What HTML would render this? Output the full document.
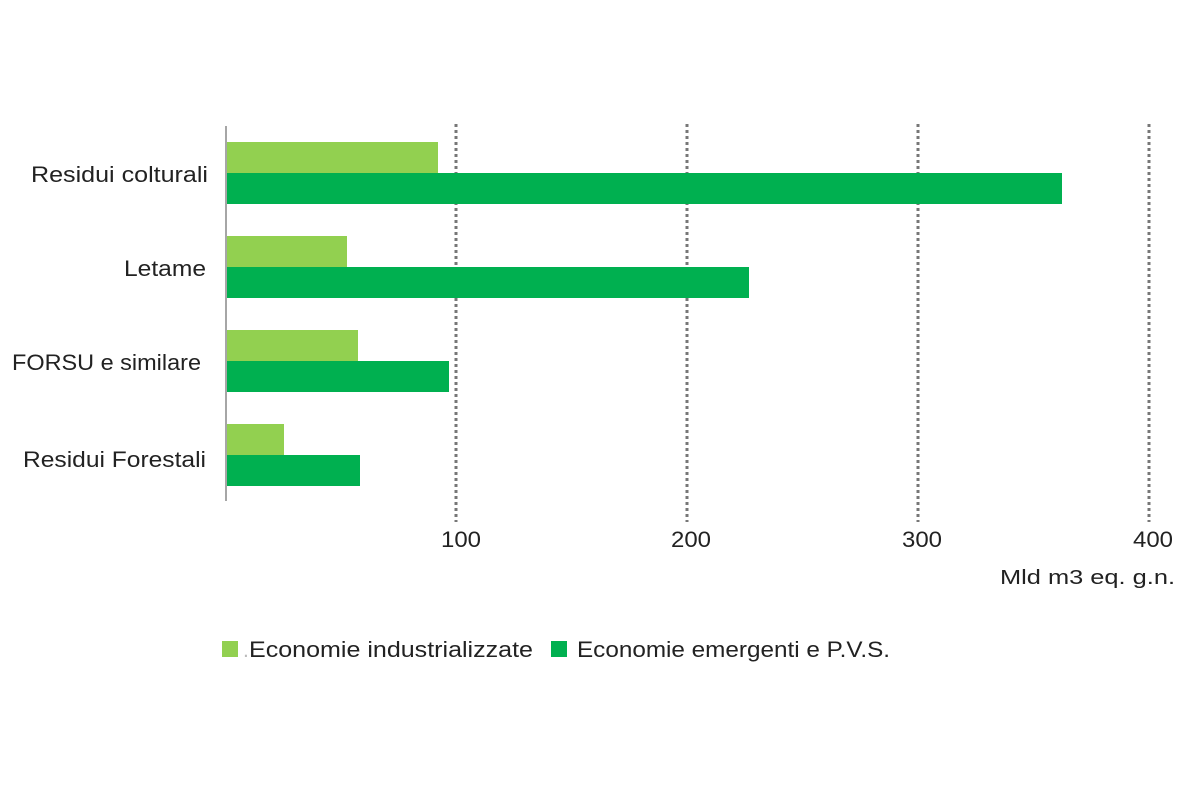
<!DOCTYPE html>
<html><head><meta charset="utf-8"><style>html,body{margin:0;padding:0;background:#fff;}svg{display:block}</style></head>
<body>
<svg width="1200" height="800" xmlns="http://www.w3.org/2000/svg" font-family="Liberation Sans, sans-serif">
<rect width="1200" height="800" fill="#fff"/>
<g stroke="#777" stroke-width="3" stroke-dasharray="3 3">
<line x1="456" y1="124" x2="456" y2="522"/>
<line x1="687" y1="124" x2="687" y2="522"/>
<line x1="918" y1="124" x2="918" y2="522"/>
<line x1="1149" y1="124" x2="1149" y2="522"/>
</g>
<line x1="226" y1="126" x2="226" y2="501" stroke="#888" stroke-width="1.5"/>
<g fill="#92d050">
<rect x="227" y="142" width="211" height="31"/>
<rect x="227" y="236" width="120" height="31"/>
<rect x="227" y="330" width="131" height="31"/>
<rect x="227" y="424" width="57" height="31"/>
</g>
<g fill="#00b050">
<rect x="227" y="173" width="835" height="31"/>
<rect x="227" y="267" width="522" height="31"/>
<rect x="227" y="361" width="222" height="31"/>
<rect x="227" y="455" width="133" height="31"/>
</g>
<g fill="#222" font-size="22">
<text x="31" y="182" textLength="177" lengthAdjust="spacingAndGlyphs">Residui colturali</text>
<text x="124" y="276" textLength="82" lengthAdjust="spacingAndGlyphs">Letame</text>
<text x="12" y="370" textLength="189" lengthAdjust="spacingAndGlyphs">FORSU e similare</text>
<text x="23" y="467" textLength="183" lengthAdjust="spacingAndGlyphs">Residui Forestali</text>
</g>
<g fill="#222" font-size="22">
<text x="441" y="547" textLength="40" lengthAdjust="spacingAndGlyphs">100</text>
<text x="671" y="547" textLength="40" lengthAdjust="spacingAndGlyphs">200</text>
<text x="902" y="547" textLength="40" lengthAdjust="spacingAndGlyphs">300</text>
<text x="1133" y="547" textLength="40" lengthAdjust="spacingAndGlyphs">400</text>
</g>
<text x="1000" y="584" fill="#222" font-size="20" textLength="175" lengthAdjust="spacingAndGlyphs">Mld m3 eq. g.n.</text>
<rect x="222" y="641" width="16" height="16" fill="#92d050"/>
<text x="243" y="657" fill="#bbb" font-size="21">.</text>
<text x="249" y="657" fill="#222" font-size="22" textLength="284" lengthAdjust="spacingAndGlyphs">Economie industrializzate</text>
<rect x="551" y="641" width="16" height="16" fill="#00b050"/>
<text x="577" y="657" fill="#222" font-size="22" textLength="313" lengthAdjust="spacingAndGlyphs">Economie emergenti e P.V.S.</text>
</svg>
</body></html>
